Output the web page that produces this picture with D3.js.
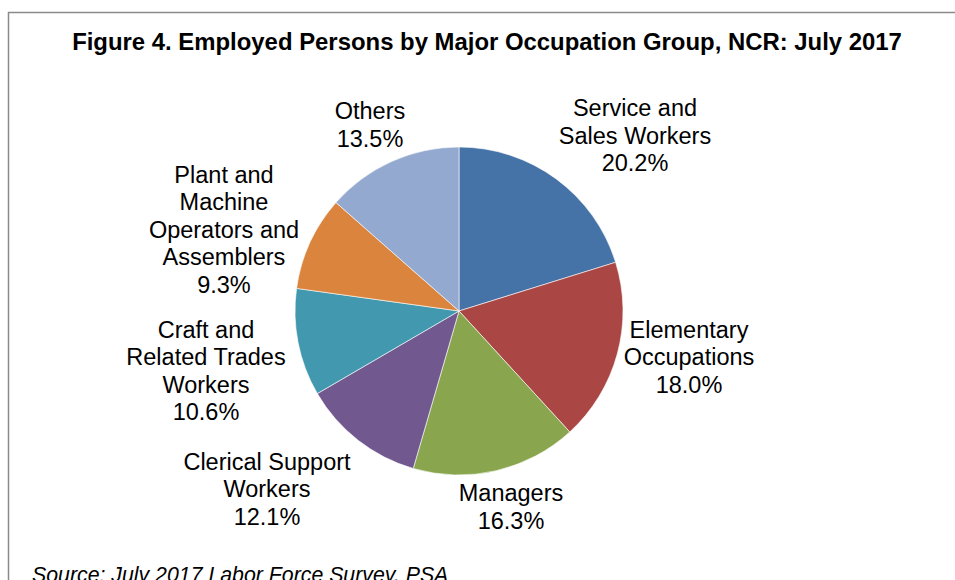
<!DOCTYPE html>
<html>
<head>
<meta charset="utf-8">
<script src="https://cdn.jsdelivr.net/npm/d3@7"></script>
<style>
  html, body { margin: 0; padding: 0; background: #fff; }
  svg { display: block; }
  text { font-family: "Liberation Sans", Arial, sans-serif; fill: #000; }
</style>
</head>
<body>
<svg id="chart" width="955" height="580"></svg>
<script>
// ---- data ----
const categories = [
  "Service and Sales Workers",
  "Elementary Occupations",
  "Managers",
  "Clerical Support Workers",
  "Craft and Related Trades Workers",
  "Plant and Machine Operators and Assemblers",
  "Others"
];
const values = [20.2, 18.0, 16.3, 12.1, 10.6, 9.3, 13.5];
const labelLines = [
  ["Service and", "Sales Workers"],
  ["Elementary", "Occupations"],
  ["Managers"],
  ["Clerical Support", "Workers"],
  ["Craft and", "Related Trades", "Workers"],
  ["Plant and", "Machine", "Operators and", "Assemblers"],
  ["Others"]
];
const colors = ["#4572A7", "#AA4643", "#89A54E", "#71588F", "#4198AF", "#DB843D", "#93A9CF"];
const titleText = "Figure 4. Employed Persons by Major Occupation Group, NCR: July 2017";
const sourceText = "Source: July 2017 Labor Force Survey, PSA";

// ---- layout ----
const cx = 459, cy = 311, radius = 164;
const lineH = 27.5;
// label anchor: center x and first baseline y
const labelLayout = [
  [635, 116],
  [689, 337.5],
  [511, 501],
  [267, 469.5],
  [206, 337.5],
  [224, 182.5],
  [370, 119.3]
];

const svg = d3.select("#chart");

// frame
svg.append("rect")
  .attr("x", 8.5).attr("y", 12.5)
  .attr("width", 1000).attr("height", 1000)
  .attr("fill", "none").attr("stroke", "#8a8a8a").attr("stroke-width", 1.5);

// title
svg.append("text")
  .attr("x", 487).attr("y", 50)
  .attr("text-anchor", "middle")
  .attr("font-weight", "bold")
  .attr("font-size", 23.9)
  .text(titleText);

// pie
const pie = d3.pie().sort(null).value(d => d)(values);
const arc = d3.arc().innerRadius(0).outerRadius(radius);
const color = d3.scaleOrdinal().domain(categories).range(colors);

const g = svg.append("g").attr("transform", `translate(${cx},${cy})`);
g.selectAll("path")
  .data(pie)
  .join("path")
  .attr("d", arc)
  .attr("fill", (d, i) => color(categories[i]))
  .attr("stroke", "#ffffff")
  .attr("stroke-width", 0.6)
  .attr("stroke-linejoin", "round");

// labels
const fmt = d3.format(".1f");
pie.forEach((d, i) => {
  const [lx, ly] = labelLayout[i];
  const lines = labelLines[i].concat([fmt(values[i]) + "%"]);
  const t = svg.append("text")
    .attr("text-anchor", "middle")
    .attr("font-size", 23.5);
  lines.forEach((ln, k) => {
    t.append("tspan").attr("x", lx).attr("y", ly + k * lineH).text(ln);
  });
});

// source
svg.append("text")
  .attr("x", 32).attr("y", 582)
  .attr("font-style", "italic")
  .attr("font-size", 21.3)
  .text(sourceText);
</script>
</body>
</html>
